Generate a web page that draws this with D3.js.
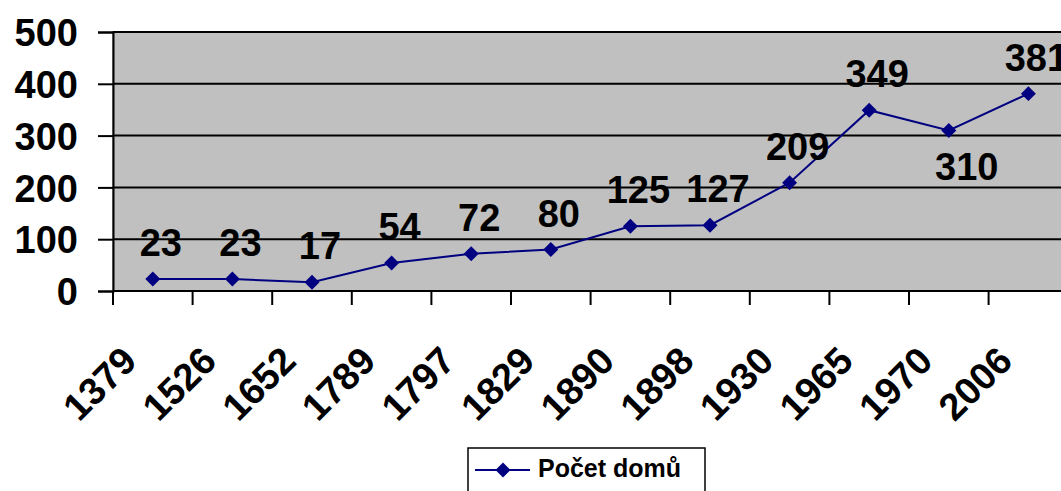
<!DOCTYPE html>
<html>
<head>
<meta charset="utf-8">
<title>Počet domů</title>
<script src="https://d3js.org/d3.v7.min.js"></script>
<style>
  body { margin: 0; background: #fff; }
  svg text { font-family: "Liberation Sans", Arial, sans-serif; font-weight: bold; }
</style>
</head>
<body>
<svg id="chart" width="1061" height="491"></svg>
<script>
// data
var years = ["1379", "1526", "1652", "1789", "1797", "1829", "1890", "1898", "1930", "1965", "1970", "2006"];
var houses = [23, 23, 17, 54, 72, 80, 125, 127, 209, 349, 310, 381];
var yTicks = [0, 100, 200, 300, 400, 500];
var seriesName = "Počet domů";

var svg = d3.select("#chart");

var plotLeft = 113, plotTop = 32, plotBottom = 291;
var band = 79.6;
var plotRight = plotLeft + band * years.length;

var x = d3.scaleBand().domain(years).range([plotLeft, plotRight]);
var y = d3.scaleLinear().domain([0, 500]).range([plotBottom, plotTop]);

// plot area
svg.append("rect")
  .attr("x", plotLeft).attr("y", plotTop)
  .attr("width", plotRight - plotLeft).attr("height", plotBottom - plotTop)
  .attr("fill", "#c0c0c0")
  .attr("stroke", "#808080").attr("stroke-width", 1.5);

// gridlines
svg.selectAll(".grid")
  .data(yTicks.slice(1))
  .enter().append("line")
  .attr("x1", plotLeft).attr("x2", plotRight)
  .attr("y1", function(d) { return y(d); })
  .attr("y2", function(d) { return y(d); })
  .attr("stroke", "#000").attr("stroke-width", 2);

// y axis
var yAxis = svg.append("g")
  .attr("transform", "translate(" + plotLeft + ",0)")
  .call(d3.axisLeft(y).tickValues(yTicks).tickSize(15).tickPadding(20));
yAxis.select(".domain").attr("stroke", "#000").attr("stroke-width", 2);
yAxis.selectAll(".tick line").attr("stroke", "#000").attr("stroke-width", 2);
yAxis.selectAll(".tick text")
  .attr("fill", "#000")
  .style("font-size", "38px")
  .attr("dy", "0.36em");

// x axis (ticks between categories)
var xAxis = svg.append("g")
  .attr("transform", "translate(0," + plotBottom + ")");
xAxis.append("line")
  .attr("x1", plotLeft).attr("x2", plotRight)
  .attr("stroke", "#000").attr("stroke-width", 2);
xAxis.selectAll(".xtick")
  .data(years)
  .enter().append("line")
  .attr("x1", function(d) { return x(d); })
  .attr("x2", function(d) { return x(d); })
  .attr("y1", 0).attr("y2", 14)
  .attr("stroke", "#000").attr("stroke-width", 2);
xAxis.selectAll(".xlabel")
  .data(years)
  .enter().append("text")
  .attr("text-anchor", "end")
  .attr("transform", function(d) {
    return "translate(" + (x(d) + x.bandwidth() / 2 - 14) + ",72) rotate(-45)";
  })
  .style("font-size", "38px")
  .text(function(d) { return d; });

// line
var cx = function(d, i) { return x(years[i]) + x.bandwidth() / 2; };
var line = d3.line()
  .x(function(d, i) { return cx(d, i); })
  .y(function(d) { return y(d); });

svg.append("path")
  .datum(houses)
  .attr("d", line)
  .attr("fill", "none")
  .attr("stroke", "#000080")
  .attr("stroke-width", 2);

var diamond = d3.symbol().type(d3.symbolSquare).size(112);
svg.selectAll(".pt")
  .data(houses)
  .enter().append("path")
  .attr("d", diamond)
  .attr("transform", function(d, i) { return "translate(" + cx(d, i) + "," + y(d) + ") rotate(45)"; })
  .attr("fill", "#000080");

// value labels, the dip at 1970 sits below its point
svg.selectAll(".val")
  .data(houses)
  .enter().append("text")
  .attr("text-anchor", "middle")
  .attr("x", function(d, i) { return cx(d, i) + (i === 10 ? 18 : 8); })
  .attr("y", function(d, i) { return y(d) + (i === 10 ? 50 : -23); })
  .style("font-size", "38px")
  .text(function(d) { return d; });

// legend
var lg = svg.append("g").attr("transform", "translate(468,448)");
lg.append("rect")
  .attr("width", 237).attr("height", 60)
  .attr("fill", "#fff")
  .attr("stroke", "#000").attr("stroke-width", 1.5);
lg.append("line")
  .attr("x1", 7).attr("x2", 62).attr("y1", 22).attr("y2", 22)
  .attr("stroke", "#000080").attr("stroke-width", 2);
lg.append("path")
  .attr("d", diamond)
  .attr("transform", "translate(35,22) rotate(45)")
  .attr("fill", "#000080");
lg.append("text")
  .attr("x", 70).attr("y", 29)
  .style("font-size", "25px")
  .text(seriesName);
</script>
</body>
</html>
